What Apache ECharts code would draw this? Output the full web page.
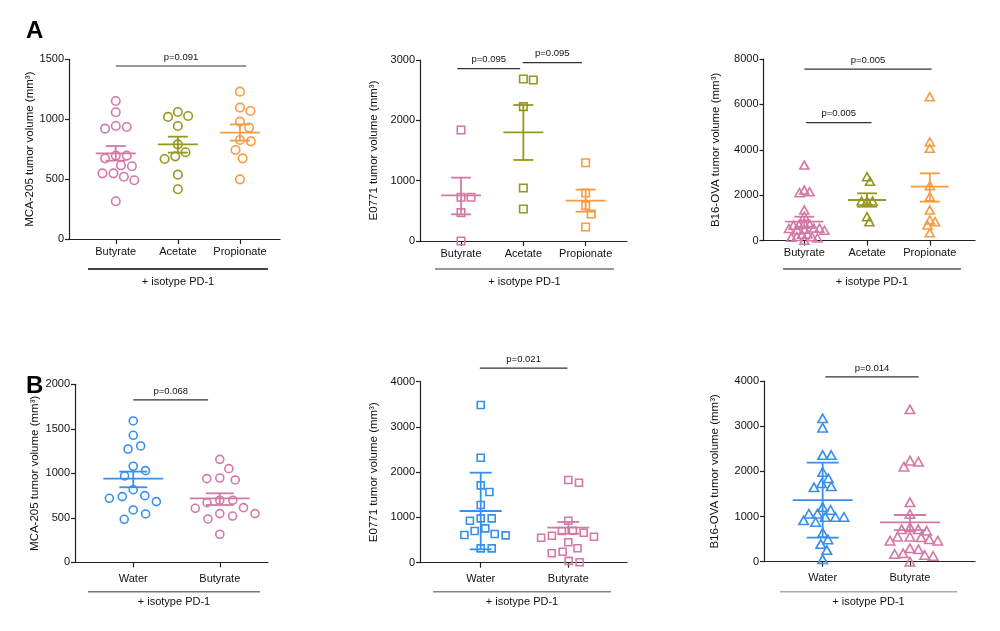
<!DOCTYPE html>
<html>
<head>
<meta charset="utf-8">
<script src="https://cdn.jsdelivr.net/npm/echarts@6/dist/echarts.min.js"></script>
<style>
html, body { margin: 0; padding: 0; background: #fff; }
#main { width: 1000px; height: 631px; }
</style>
</head>
<body>
<div id="main"></div>
<script>
// ---- data ----
var catsA = ['Butyrate', 'Acetate', 'Propionate'];
var catsB = ['Water', 'Butyrate'];

// A, MCA-205
var a1Butyrate = [1152, 1058, 943, 921, 935, 696, 673, 696, 615, 607, 548, 520, 548, 490, 315];
var a1Acetate = [1027, 1019, 1060, 943, 790, 690, 724, 668, 537, 415];
var a1Propionate = [1230, 1097, 1069, 980, 930, 827, 815, 743, 673, 498];
var a1Mean = [715, 790, 888];
var a1Low = [654, 721, 821];
var a1High = [776, 854, 957];
var a1P = [[1, 3.1, 1444, 'p=0.091']];

// A, E0771
var a2Butyrate = [1840, 724, 724, 470, 0];
var a2Acetate = [2685, 2669, 2227, 878, 530];
var a2Propionate = [1298, 796, 586, 448, 232];
var a2Mean = [757, 1801, 669];
var a2Low = [442, 1343, 486];
var a2High = [1050, 2254, 851];
var a2P = [[0.94, 1.95, 2856, 'p=0.095'], [1.99, 2.94, 2956, 'p=0.095']];

// A, B16-OVA
var a3Butyrate = [3330, 2230, 2160, 2110, 1350, 1080, 760, 720, 700, 680, 560, 550, 540, 500, 470, 460, 300, 280, 190, 170, 150, 120, 20];
var a3Acetate = [2818, 2613, 1747, 1747, 1747, 1057, 837];
var a3Propionate = [6342, 4345, 4066, 2422, 1938, 1350, 910, 837, 690, 352];
var a3Mean = [837, 1791, 2378];
var a3Low = [617, 1497, 1718];
var a3High = [1057, 2085, 2965];
var a3P = [[1.0, 3.03, 7557, 'p=0.005'], [1.03, 2.07, 5197, 'p=0.005']];

// B, MCA-205
var b1Water = [1588, 1427, 1307, 1273, 1079, 1030, 970, 816, 738, 719, 749, 682, 588, 543, 483];
var b1Butyrate = [1157, 1052, 947, 925, 940, 697, 670, 697, 614, 607, 547, 520, 547, 487, 315];
var b1Mean = [940, 719];
var b1Low = [843, 644];
var b1High = [1019, 775];
var b1P = [[1.0, 1.865, 1824, 'p=0.068']];

// B, E0771
var b2Water = [3484, 2320, 1709, 1561, 1274, 980, 928, 980, 759, 700, 611, 633, 604, 317, 317];
var b2Butyrate = [1768, 1828, 928, 663, 553, 597, 700, 575, 707, 451, 318, 208, 243, 10, 40];
var b2Mean = [1142, 774];
var b2Low = [295, 640];
var b2High = [1989, 900];
var b2P = [[0.99, 1.99, 4300, 'p=0.021']];

// B, B16-OVA
var b3Water = [3173, 2967, 2361, 2361, 1845, 1985, 1734, 1668, 1646, 1210, 1062, 915, 989, 989, 989, 1144, 1062, 878, 642, 494, 391, 258, 52];
var b3Butyrate = [3373, 2104, 2236, 2214, 1315, 1056, 717, 717, 761, 686, 465, 496, 553, 553, 540, 465, 274, 126, 148, 170, 296, 185, 0];
var b3Mean = [1365, 872];
var b3Low = [531, 700];
var b3High = [2192, 1034];
var b3P = [[1.03, 2.1, 4090, 'p=0.014']];

// ---- styling ----
var FONT = 'Liberation Sans, Arial, sans-serif';
var PINK = '#d279a6', OLIVE = '#979720', ORANGE = '#f69c40', BLUE = '#3590f0';

var panels = [
  { left: 69, top: 59.3, width: 211, height: 179.7, xmin: 0.247, xmax: 3.645, ymax: 1500, yint: 500,
    name: 'MCA-205 tumor volume (mm³)', nameGap: 21, cats: catsA,
    groups: [a1Butyrate, a1Acetate, a1Propionate], colors: [PINK, OLIVE, ORANGE],
    mean: a1Mean, low: a1Low, high: a1High, pv: a1P,
    symbol: 'circle', size: 8.5, gap: 11, meanHalf: 20, capHalf: 10, labelMargin: 7,
    grp: { x1: 88, x2: 268, y: 269, ty: 282, color: '#444', w: 2 } },
  { left: 420, top: 60, width: 207, height: 181, xmin: 0.342, xmax: 3.663, ymax: 3000, yint: 1000,
    name: 'E0771 tumor volume (mm³)', nameGap: 40, cats: catsA,
    groups: [a2Butyrate, a2Acetate, a2Propionate], colors: [PINK, OLIVE, ORANGE],
    mean: a2Mean, low: a2Low, high: a2High, pv: a2P,
    symbol: 'rect', size: 7.5, gap: 10, meanHalf: 20, capHalf: 10, labelMargin: 7,
    grp: { x1: 435, x2: 614, y: 269, ty: 282, color: '#999', w: 2 } },
  { left: 763.5, top: 59, width: 211.5, height: 181.7, xmin: 0.35, xmax: 3.72, ymax: 8000, yint: 2000,
    name: 'B16-OVA tumor volume (mm³)', nameGap: 42, cats: catsA,
    groups: [a3Butyrate, a3Acetate, a3Propionate], colors: [PINK, OLIVE, ORANGE],
    mean: a3Mean, low: a3Low, high: a3High, pv: a3P,
    symbol: 'triangle', size: [9, 8], gap: 5.5, meanHalf: 19, capHalf: 10, labelMargin: 7,
    grp: { x1: 783, x2: 961, y: 269, ty: 282, color: '#555', w: 1.5 } },
  { left: 75, top: 384.3, width: 193, height: 178, xmin: 0.327, xmax: 2.557, ymax: 2000, yint: 500,
    name: 'MCA-205 tumor volume (mm³)', nameGap: 34, cats: catsB,
    groups: [b1Water, b1Butyrate], colors: [BLUE, PINK],
    mean: b1Mean, low: b1Low, high: b1High, pv: b1P,
    symbol: 'circle', size: 8, gap: 13, meanHalf: 30, capHalf: 14, labelMargin: 11,
    grp: { x1: 88, x2: 260, y: 591.7, ty: 602, color: '#777', w: 1.5 } },
  { left: 420, top: 381.7, width: 207, height: 181, xmin: 0.307, xmax: 2.67, ymax: 4000, yint: 1000,
    name: 'E0771 tumor volume (mm³)', nameGap: 40, cats: catsB,
    groups: [b2Water, b2Butyrate], colors: [BLUE, PINK],
    mean: b2Mean, low: b2Low, high: b2High, pv: b2P,
    symbol: 'rect', size: 7, gap: 11, meanHalf: 21, capHalf: 11, labelMargin: 11,
    grp: { x1: 433, x2: 611, y: 591.7, ty: 602, color: '#888', w: 1.5 } },
  { left: 764, top: 381, width: 211, height: 180.7, xmin: 0.328, xmax: 2.745, ymax: 4000, yint: 1000,
    name: 'B16-OVA tumor volume (mm³)', nameGap: 43, cats: catsB,
    groups: [b3Water, b3Butyrate], colors: [BLUE, PINK],
    mean: b3Mean, low: b3Low, high: b3High, pv: b3P,
    symbol: 'triangle', size: [9.5, 8.5], gap: 8.5, meanHalf: 30, capHalf: 16, labelMargin: 11,
    grp: { x1: 780, x2: 957, y: 591.7, ty: 602, color: '#aaa', w: 1.5 } }
];

// simple beeswarm: spread overlapping points sideways (pixel space), returns offsets in category units
function swarm(vals, pxPerVal, pxPerCat, d) {
  var order = vals.map(function (v, i) { return i; }).sort(function (a, b) { return vals[b] - vals[a]; });
  var placed = [], off = [];
  order.forEach(function (i) {
    var y = vals[i] * pxPerVal;
    var blocks = [];
    placed.forEach(function (p) {
      var dy = Math.abs(p.y - y);
      if (dy < d) {
        var w = Math.sqrt(d * d - dy * dy);
        blocks.push([p.x - w, p.x + w]);
      }
    });
    var cands = [0];
    blocks.forEach(function (b) { cands.push(b[1], b[0]); });
    cands.sort(function (a, b) { return Math.abs(a) - Math.abs(b); });
    var x = 0;
    for (var k = 0; k < cands.length; k++) {
      var c = cands[k];
      var ok = blocks.every(function (b) { return c <= b[0] + 1e-6 || c >= b[1] - 1e-6; });
      if (ok) { x = c; break; }
    }
    placed.push({ x: x, y: y });
    off[i] = x / pxPerCat;
  });
  return off;
}

var grids = [], xAxes = [], yAxes = [], series = [], graphics = [];

panels.forEach(function (p, pi) {
  grids.push({ left: p.left, top: p.top, width: p.width, height: p.height });
  var catValues = p.cats.map(function (c, i) { return i + 1; });
  xAxes.push({
    type: 'value', gridIndex: pi, min: p.xmin, max: p.xmax,
    splitLine: { show: false },
    axisLine: { show: true, onZero: false, lineStyle: { color: '#222', width: 1.2 } },
    axisTick: { show: true, customValues: catValues, length: 5, lineStyle: { color: '#222', width: 1.2 } },
    axisLabel: {
      show: true, customValues: catValues, margin: p.labelMargin,
      color: '#111', fontSize: 11, fontFamily: FONT,
      formatter: function (v) { return p.cats[Math.round(v) - 1] || ''; }
    }
  });
  yAxes.push({
    type: 'value', gridIndex: pi, min: 0, max: p.ymax, interval: p.yint,
    name: p.name, nameLocation: 'middle', nameGap: p.nameGap,
    nameTextStyle: { color: '#111', fontSize: 11.5, fontFamily: FONT },
    splitLine: { show: false },
    axisLine: { show: true, lineStyle: { color: '#222', width: 1.2 } },
    axisTick: { show: true, length: 4, lineStyle: { color: '#222', width: 1.2 } },
    axisLabel: { color: '#111', fontSize: 11, fontFamily: FONT, margin: 5,
      formatter: function (v) { return String(v); } }
  });

  var pxPerVal = p.height / p.ymax;
  var pxPerCat = p.width / (p.xmax - p.xmin);

  p.groups.forEach(function (vals, gi) {
    var col = p.colors[gi];
    var off = swarm(vals, pxPerVal, pxPerCat, p.gap);
    series.push({
      type: 'scatter', xAxisIndex: pi, yAxisIndex: pi,
      symbol: p.symbol, symbolSize: p.size,
      itemStyle: { color: 'rgba(0,0,0,0)', borderColor: col, borderWidth: 1.6, opacity: 1 },
      emphasis: { disabled: true },
      silent: true, z: 3,
      data: vals.map(function (v, i) { return [gi + 1 + off[i], v]; })
    });
    // mean + error bars
    series.push({
      type: 'custom', xAxisIndex: pi, yAxisIndex: pi, silent: true, z: 2, clip: false,
      data: [[gi + 1, p.mean[gi], p.low[gi], p.high[gi]]],
      renderItem: function (params, api) {
        var m = api.coord([api.value(0), api.value(1)]);
        var lo = api.coord([api.value(0), api.value(2)]);
        var hi = api.coord([api.value(0), api.value(3)]);
        var st = { stroke: col, lineWidth: 1.8 };
        return {
          type: 'group',
          children: [
            { type: 'line', shape: { x1: m[0] - p.meanHalf, y1: m[1], x2: m[0] + p.meanHalf, y2: m[1] }, style: st },
            { type: 'line', shape: { x1: m[0], y1: lo[1], x2: m[0], y2: hi[1] }, style: st },
            { type: 'line', shape: { x1: m[0] - p.capHalf, y1: lo[1], x2: m[0] + p.capHalf, y2: lo[1] }, style: st },
            { type: 'line', shape: { x1: m[0] - p.capHalf, y1: hi[1], x2: m[0] + p.capHalf, y2: hi[1] }, style: st }
          ]
        };
      }
    });
  });

  // p-value brackets
  series.push({
    type: 'custom', xAxisIndex: pi, yAxisIndex: pi, silent: true, z: 4, clip: false,
    data: p.pv.map(function (b) { return [b[0], b[1], b[2]]; }),
    renderItem: function (params, api) {
      var a = api.coord([api.value(0), api.value(2)]);
      var b = api.coord([api.value(1), api.value(2)]);
      return {
        type: 'group',
        children: [
          { type: 'line', shape: { x1: a[0], y1: a[1], x2: b[0], y2: b[1] }, style: { stroke: '#333', lineWidth: 1.2 } },
          { type: 'text', style: {
              text: p.pv[params.dataIndex][3], x: (a[0] + b[0]) / 2, y: a[1] - 4,
              align: 'center', verticalAlign: 'bottom',
              fontSize: 9.5, fontFamily: FONT, fill: '#111' } }
        ]
      };
    }
  });

  // "+ isotype PD-1" group bar under the category labels
  graphics.push({ type: 'line', silent: true,
    shape: { x1: p.grp.x1, y1: p.grp.y, x2: p.grp.x2, y2: p.grp.y },
    style: { stroke: p.grp.color, lineWidth: p.grp.w } });
  graphics.push({ type: 'text', silent: true,
    x: (p.grp.x1 + p.grp.x2) / 2, y: p.grp.ty,
    style: { text: '+ isotype PD-1', align: 'center', verticalAlign: 'middle',
      fontSize: 11, fontFamily: FONT, fill: '#111' } });
});

graphics.push({ type: 'text', silent: true, x: 26, y: 19,
  style: { text: 'A', fontSize: 24, fontWeight: 'bold', fontFamily: FONT, fill: '#000' } });
graphics.push({ type: 'text', silent: true, x: 26, y: 374,
  style: { text: 'B', fontSize: 24, fontWeight: 'bold', fontFamily: FONT, fill: '#000' } });

var myChart = echarts.init(document.getElementById('main'));
myChart.setOption({
  animation: false,
  backgroundColor: '#fff',
  grid: grids,
  xAxis: xAxes,
  yAxis: yAxes,
  series: series,
  graphic: graphics
});
</script>
</body>
</html>
